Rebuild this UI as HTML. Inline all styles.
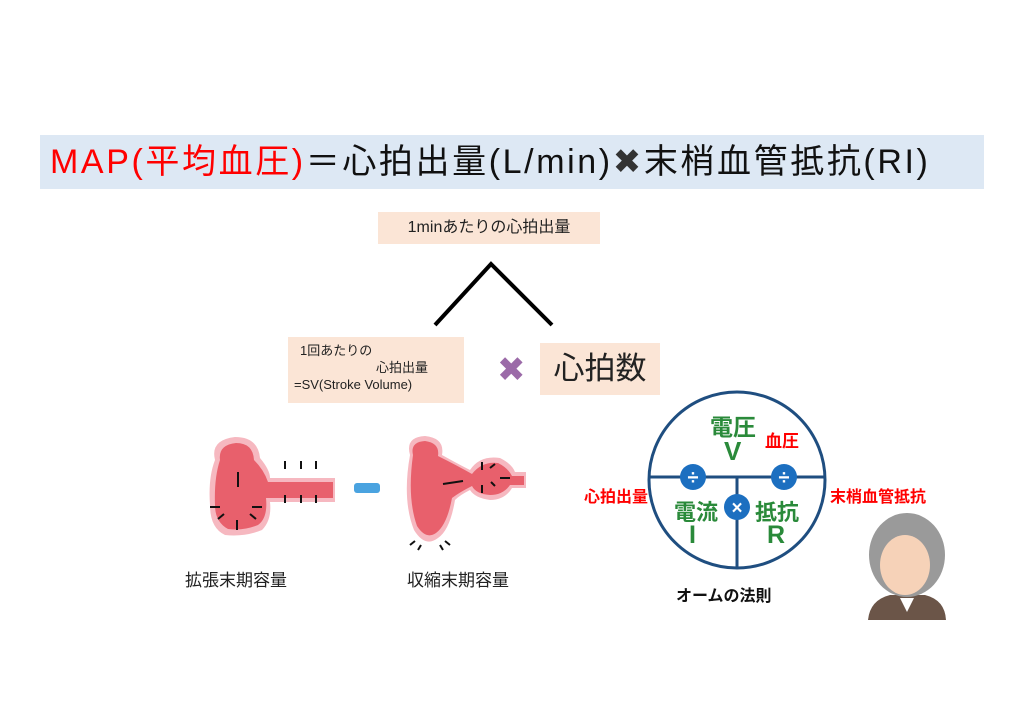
<!DOCTYPE html>
<html><head><meta charset="utf-8"><style>
body{margin:0;width:1024px;height:724px;background:#fff;position:relative;overflow:hidden;font-family:"Liberation Sans","Noto Sans CJK JP",sans-serif;}
.a{position:absolute;white-space:nowrap;}
</style></head><body>
<div class="a" style="left:40px;top:135px;width:944px;height:54px;background:#dde8f4;"></div>
<div class="a" style="left:50px;top:139px;font-size:34px;line-height:46px;color:#111;letter-spacing:2.6px;"><span style="color:#f00">MAP(平均血圧)</span>＝心拍出量(L/min)<span style="color:#333">✖</span>末梢血管抵抗(RI)</div>
<div class="a" style="left:378px;top:212px;width:222px;height:32px;background:#fbe5d6;font-size:16px;line-height:32px;text-align:center;color:#222;">1minあたりの心拍出量</div>
<div class="a" style="left:288px;top:337px;width:176px;height:66px;background:#fbe5d6;font-size:13px;line-height:17px;color:#222;"><div style="padding:5px 0 0 12px">1回あたりの</div><div style="padding-left:88px">心拍出量</div><div style="padding-left:6px">=SV(Stroke Volume)</div></div>
<div class="a" style="left:540px;top:343px;width:120px;height:52px;background:#fbe5d6;font-size:31px;line-height:52px;text-align:center;color:#222;">心拍数</div>
<div class="a" style="left:497px;top:350px;font-size:34px;color:#9b6aa8;">✖</div>
<div class="a" style="left:185px;top:566px;font-size:17px;color:#222;">拡張末期容量</div>
<div class="a" style="left:407px;top:566px;font-size:17px;color:#222;">収縮末期容量</div>
<svg class="a" style="left:0;top:0" width="1024" height="724">
<polyline points="435,325 491,264 552,325" fill="none" stroke="#000" stroke-width="4"/>
<g>
<path d="M215,460 Q210,440 235,437 Q258,437 260,458 Q270,470 270,478 L335,478 L335,502 L270,502 Q272,520 262,530 Q245,537 225,535 Q210,528 210,505 Q208,478 215,460Z" fill="#f6b8c0"/>
<path d="M220,460 Q218,445 236,443 Q253,443 254,460 Q264,470 268,482 L333,482 L333,498 L266,498 Q268,518 258,525 Q244,531 228,529 Q215,522 215,505 Q214,478 220,460Z" fill="#e8606c"/>
<g stroke="#111" stroke-width="2" fill="none"><path d="M238,472v15M220,507h-10M252,507h10M237,520v10M285,461v8M301,461v8M316,461v8M285,503v-8M301,503v-8M316,503v-8M224,514l-6,5M250,514l6,5"/></g>
<rect x="354" y="483" width="26" height="10" rx="3" fill="#4aa3e0"/>
<path d="M410,455 Q405,437 425,436 Q445,438 442,455 Q460,465 470,470 Q480,455 500,458 Q512,464 515,472 L526,472 L526,488 L512,488 Q505,500 490,500 Q475,498 470,490 Q460,495 455,500 Q450,530 438,538 Q425,548 414,530 Q402,500 410,455Z" fill="#f6b8c0"/>
<path d="M413,455 Q410,442 425,441 Q440,443 438,456 Q458,466 472,474 Q482,461 498,463 Q508,468 512,476 L524,476 L524,485 L510,485 Q503,495 490,495 Q476,494 472,486 Q460,492 452,498 Q447,525 436,533 Q426,540 417,526 Q407,498 413,455Z" fill="#e8606c"/>
<g stroke="#111" stroke-width="2" fill="none"><path d="M443,484l20,-3M482,470v-8M490,468l5,-4M482,485v8M491,482l4,4M500,478h10M410,545l5,-4M418,550l3,-5M443,550l-3,-5M450,545l-5,-4"/></g>
</g>
<circle cx="737" cy="480" r="88" fill="none" stroke="#1f4e80" stroke-width="3"/>
<line x1="649" y1="477" x2="825" y2="477" stroke="#1f4e80" stroke-width="3"/>
<line x1="737" y1="477" x2="737" y2="567" stroke="#1f4e80" stroke-width="3"/>
<circle cx="693" cy="477" r="13" fill="#1c6fc0"/><circle cx="784" cy="477" r="13" fill="#1c6fc0"/><circle cx="737" cy="507" r="13" fill="#1c6fc0"/>
<text x="693" y="484" font-size="20" fill="#fff" text-anchor="middle" font-weight="bold" font-family="Liberation Sans">÷</text>
<text x="784" y="484" font-size="20" fill="#fff" text-anchor="middle" font-weight="bold" font-family="Liberation Sans">÷</text>
<text x="737" y="514" font-size="19" fill="#fff" text-anchor="middle" font-weight="bold" font-family="Liberation Sans">×</text>
<path d="M868,620 Q870,600 890,595 L925,595 Q945,600 946,620Z" fill="#6b5548"/>
<path d="M900,598 L907,612 L914,598Z" fill="#fff"/>
<ellipse cx="907" cy="555" rx="38" ry="42" fill="#9a9a9a"/>
<ellipse cx="905" cy="565" rx="25" ry="30" fill="#f6d2b8"/>
</svg>
<div class="a" style="left:710px;top:408px;font-size:23px;font-weight:bold;color:#2a8a3a;">電圧</div>
<div class="a" style="left:724px;top:436px;font-size:26px;font-weight:bold;color:#2a8a3a;">V</div>
<div class="a" style="left:765px;top:427px;font-size:17px;font-weight:bold;color:#f00;">血圧</div>
<div class="a" style="left:674px;top:495px;font-size:22px;font-weight:bold;color:#2a8a3a;">電流</div>
<div class="a" style="left:689px;top:521px;font-size:25px;font-weight:bold;color:#2a8a3a;">I</div>
<div class="a" style="left:755px;top:495px;font-size:22px;font-weight:bold;color:#2a8a3a;">抵抗</div>
<div class="a" style="left:767px;top:521px;font-size:25px;font-weight:bold;color:#2a8a3a;">R</div>
<div class="a" style="left:584px;top:483px;font-size:16px;font-weight:bold;color:#f00;">心拍出量</div>
<div class="a" style="left:830px;top:483px;font-size:16px;font-weight:bold;color:#f00;">末梢血管抵抗</div>
<div class="a" style="left:676px;top:582px;font-size:16px;font-weight:bold;color:#111;">オームの法則</div>
</body></html>
